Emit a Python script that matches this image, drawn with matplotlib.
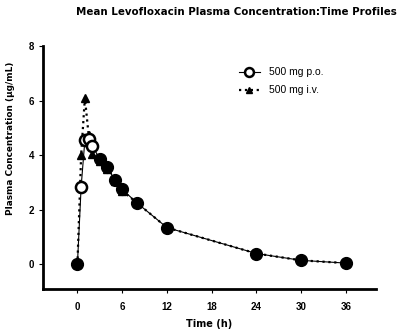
import numpy as np
import matplotlib
matplotlib.use("Agg")
import matplotlib.pyplot as plt

plt.rcParams["font.family"] = ["Liberation Sans", "DejaVu Sans"]

# sampling times (h)
time_h = [0, 0.5, 1, 1.5, 2, 3, 4, 5, 6, 8, 12, 24, 30, 36]
# mean plasma concentrations (ug/mL)
po_conc = [0, 2.85, 4.55, 4.6, 4.35, 3.85, 3.55, 3.1, 2.75, 2.25, 1.35, 0.4, 0.15, 0.05]
iv_conc = [0, 4.0, 6.1, 4.75, 4.05, 3.8, 3.5, 3.05, 2.7, 2.25, 1.35, 0.4, 0.15, 0.05]

xticks = [0, 6, 12, 18, 24, 30, 36]
yticks = [0, 2, 4, 6, 8]

fig = plt.figure(figsize=(3.99, 3.33), dpi=100)
ax = fig.add_axes([0.108, 0.132, 0.834, 0.73])

# i.v. infusion: dotted line, filled triangles
ax.plot(time_h, iv_conc, linestyle=":", color="black", linewidth=1.6,
        marker="^", markersize=6, markerfacecolor="black", markeredgecolor="black",
        label="500 mg i.v.", zorder=2)

# oral: solid thin line, open circles early, filled where overlapping later
ax.plot(time_h, po_conc, linestyle="-", color="black", linewidth=0.8,
        marker="o", markersize=8, markerfacecolor="white", markeredgecolor="black",
        markeredgewidth=1.8, markevery=[1, 2, 3, 4], label="500 mg p.o.", zorder=3)
ax.plot(time_h, po_conc, linestyle="None", marker="o", markersize=8.5,
        markerfacecolor="black", markeredgecolor="black",
        markevery=[0, 5, 6, 7, 8, 9, 10, 11, 12, 13], zorder=4)

ax.set_xlim(-4.6, 40)
ax.set_ylim(-0.9, 8)
ax.set_xticks(xticks)
ax.set_yticks(yticks)
ax.tick_params(labelsize=7, length=3, width=0.8, direction="out")
ax.tick_params(axis="x", pad=6)
for lab in ax.get_xticklabels() + ax.get_yticklabels():
    lab.set_fontweight("bold")
ax.spines["top"].set_visible(False)
ax.spines["right"].set_visible(False)
ax.spines["left"].set_linewidth(2)
ax.spines["bottom"].set_linewidth(2)

ax.set_xlabel("Time (h)", fontsize=7, fontweight="bold", family="DejaVu Sans")
ax.xaxis.set_label_coords(0.5, -0.125)
ax.set_ylabel("Plasma Concentration (\u00b5g/mL)", fontsize=6.4, fontweight="bold",
              family="DejaVu Sans")
ax.yaxis.set_label_coords(-0.085, 0.62)

handles, labels = ax.get_legend_handles_labels()
ax.legend(handles[::-1], labels[::-1], loc="upper left", bbox_to_anchor=(0.56, 0.95),
          frameon=False, fontsize=7.5, handlelength=2.0, handletextpad=0.9,
          labelspacing=0.75, markerscale=0.8)

fig.text(0.19, 0.965, "Mean Levofloxacin Plasma Concentration:Time Profiles",
         fontsize=7.4, fontweight="bold", ha="left", va="center", family="DejaVu Sans")

fig.savefig("out.png", dpi=100)
